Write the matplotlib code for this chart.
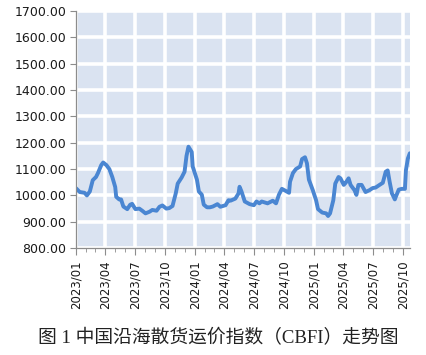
import matplotlib
matplotlib.use("Agg")
import matplotlib.pyplot as plt
import matplotlib.dates as mdates
import pandas as pd

dates = ["2023-01-01", "2023-01-13", "2023-01-28", "2023-02-04", "2023-02-13", "2023-02-22",
         "2023-03-04", "2023-03-10", "2023-03-20", "2023-03-26", "2023-04-05", "2023-04-14",
         "2023-04-23", "2023-05-02", "2023-05-05", "2023-05-14", "2023-05-20", "2023-05-27",
         "2023-06-08", "2023-06-17", "2023-06-23", "2023-07-03", "2023-07-15", "2023-07-24",
         "2023-08-03", "2023-08-15", "2023-08-24", "2023-09-06", "2023-09-15", "2023-09-24",
         "2023-10-06", "2023-10-15", "2023-10-25", "2023-11-04", "2023-11-10", "2023-11-22",
         "2023-12-01", "2023-12-07", "2023-12-13", "2023-12-23", "2023-12-26", "2024-01-08",
         "2024-01-14", "2024-01-23", "2024-01-29", "2024-02-08", "2024-02-17", "2024-02-26",
         "2024-03-11", "2024-03-20", "2024-04-05", "2024-04-14", "2024-04-20", "2024-05-05",
         "2024-05-15", "2024-05-18", "2024-05-24", "2024-06-03", "2024-06-18", "2024-07-01",
         "2024-07-09", "2024-07-18", "2024-07-25", "2024-08-12", "2024-08-28", "2024-09-07",
         "2024-09-16", "2024-09-25", "2024-10-07", "2024-10-17", "2024-10-20", "2024-10-29",
         "2024-11-07", "2024-11-20", "2024-11-26", "2024-12-05", "2024-12-11", "2024-12-17",
         "2024-12-23", "2024-12-29", "2025-01-08", "2025-01-14", "2025-01-27", "2025-02-08",
         "2025-02-14", "2025-02-20", "2025-03-02", "2025-03-08", "2025-03-18", "2025-03-24",
         "2025-04-03", "2025-04-09", "2025-04-18", "2025-04-24", "2025-05-06", "2025-05-12",
         "2025-05-18", "2025-05-28", "2025-06-09", "2025-06-21", "2025-07-01", "2025-07-10",
         "2025-07-22", "2025-08-01", "2025-08-10", "2025-08-16", "2025-08-22", "2025-08-29",
         "2025-09-07", "2025-09-10", "2025-09-19", "2025-09-28", "2025-10-08", "2025-10-11",
         "2025-10-17", "2025-10-23"]

cbfi = [1028, 1013, 1010, 1000, 1015, 1058,
        1070, 1085, 1115, 1125, 1115, 1100,
        1070, 1032, 995, 985, 985, 958,
        948, 965, 968, 948, 950, 942,
        932, 938, 945, 942, 957, 962,
        950, 952, 960, 1008, 1045, 1068,
        1090, 1150, 1185, 1165, 1110, 1060,
        1015, 1003, 965, 955, 955, 958,
        967, 957, 963, 982, 980, 988,
        1008, 1033, 1015, 977, 967, 963,
        977, 970, 977, 970, 980, 970,
        1003, 1025, 1017, 1010, 1052, 1085,
        1100, 1110, 1138, 1145, 1122, 1060,
        1040, 1020, 982, 948, 935, 932,
        922, 932, 982, 1045, 1070, 1065,
        1040, 1048, 1065, 1040, 1020, 1002,
        1040, 1040, 1013, 1020, 1028, 1030,
        1040, 1048, 1090, 1095, 1052, 1008,
        985, 995, 1022, 1025, 1025, 1095,
        1140, 1160]

tick_labels = ["2023/01", "2023/04", "2023/07", "2023/10", "2024/01", "2024/04",
               "2024/07", "2024/10", "2025/01", "2025/04", "2025/07", "2025/10"]
title = "图 1 中国沿海散货运价指数（CBFI）走势图"

x = pd.to_datetime(dates)
tick_pos = pd.to_datetime([t.replace("/", "-") + "-01" for t in tick_labels])

fig = plt.figure(figsize=(4.26, 3.55), dpi=100)
ax = fig.add_axes([0.178, 0.301, 0.784, 0.668])
ax.set_facecolor("#dae3f1")

ax.plot(x, cbfi, color="#4a86d2", linewidth=2.8, solid_capstyle="round",
        solid_joinstyle="round", zorder=3)

ax.set_ylim(800, 1700)
ax.set_yticks(range(800, 1701, 100))
ax.set_yticklabels([f"{v:.2f}" for v in range(800, 1701, 100)])
ax.set_xlim(pd.Timestamp("2023-01-01"), pd.Timestamp("2025-10-23"))
ax.set_xticks(tick_pos)
ax.set_xticklabels(tick_labels, rotation=90)
ax.xaxis.set_minor_locator(mdates.MonthLocator())

ax.grid(True, which="major", color="white", linewidth=2.6, zorder=1)
ax.set_axisbelow(True)

for s in ["top", "right"]:
    ax.spines[s].set_visible(False)
for s in ["left", "bottom"]:
    ax.spines[s].set_color("#8c8c8c")
    ax.spines[s].set_linewidth(0.9)
    ax.spines[s].set_zorder(4)

ax.tick_params(axis="y", which="major", length=4, color="#8c8c8c", labelsize=9,
               labelcolor="#1a1a1a", pad=3)
ax.tick_params(axis="x", which="major", length=5, color="#8c8c8c", labelsize=8.5,
               labelcolor="#1a1a1a", pad=4)
ax.tick_params(axis="x", which="minor", length=3, color="#8c8c8c")

fig.text(0.512, 0.048, title, ha="center", va="center", fontsize=13.5,
         family=["Liberation Serif", "Noto Sans CJK SC"], color="#222222")

fig.savefig("out.png", dpi=100)
